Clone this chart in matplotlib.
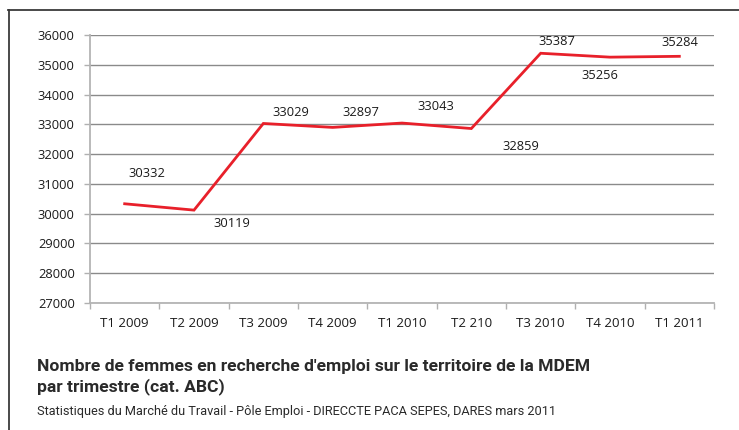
import matplotlib
matplotlib.use("Agg")
import matplotlib.pyplot as plt
from matplotlib.lines import Line2D

# Data
trimestres = ["T1 2009", "T2 2009", "T3 2009", "T4 2009", "T1 2010",
              "T2 210", "T3 2010", "T4 2010", "T1 2011"]
femmes = [30332, 30119, 33029, 32897, 33043, 32859, 35387, 35256, 35284]
# label offsets (pixels) from each point
label_dx = [22, 38, 28, 28, 34, 50, 16, -10, 1]
label_dy = [30, -13, 11, 15, 17, -18, 12, -18, 14]

plt.rcParams['font.family'] = ['Open Sans', 'DejaVu Sans']

fig = plt.figure(figsize=(7.39, 4.30), dpi=100)
ax = fig.add_axes([90 / 739, 1 - 303 / 430, 624 / 739, 268 / 430])

x = list(range(len(trimestres)))
ax.plot(x, femmes, color='#e8202a', lw=2.0, solid_joinstyle='miter')

for xi, v, dx, dy in zip(x, femmes, label_dx, label_dy):
    ax.annotate(str(v), (xi, v), xytext=(dx * 0.72, dy * 0.72),
                textcoords='offset points', ha='center', va='center',
                fontsize=9.3, color='#1a1a1a')

ax.set_xlim(-0.5, len(trimestres) - 0.5)
ax.set_ylim(27000, 36000)
ax.set_yticks(range(27000, 36001, 1000))
ax.yaxis.grid(True, color='#8a8a8a', lw=1.0)
ax.set_axisbelow(True)

ax.set_xticks([i - 0.5 for i in range(len(trimestres) + 1)])
ax.set_xticklabels([])
ax.set_xticks(x, minor=True)
ax.set_xticklabels(trimestres, minor=True)
ax.tick_params(axis='x', which='major', length=4, color='#b0b0b0', width=1)
ax.tick_params(axis='x', which='minor', length=0, pad=10, labelsize=9.5,
               labelcolor='#1a1a1a')
ax.tick_params(axis='y', length=4, color='#b0b0b0', width=1, pad=7,
               labelsize=9.3, labelcolor='#1a1a1a')

for s in ['top', 'right']:
    ax.spines[s].set_visible(False)
for s in ['left', 'bottom']:
    ax.spines[s].set_color('#b4b4b4')
    ax.spines[s].set_linewidth(1.3)

# outer frame (top and left edges visible)
fig.add_artist(Line2D([8 / 739, 1], [1 - 10 / 430, 1 - 10 / 430],
                      color='#3a3a3a', lw=1.3, transform=fig.transFigure))
fig.add_artist(Line2D([9 / 739, 9 / 739], [0, 1 - 10 / 430],
                      color='#3a3a3a', lw=1.3, transform=fig.transFigure))

tfam = ['DejaVu Sans Condensed', 'Roboto', 'DejaVu Sans']
fig.text(37 / 739, 1 - 366 / 430,
         "Nombre de femmes en recherche d'emploi sur le territoire de la MDEM",
         family=tfam, fontweight='bold', fontsize=12.6, color='#2a2a2a',
         ha='left', va='center')
fig.text(37 / 739, 1 - 387 / 430, "par trimestre (cat. ABC)",
         family=tfam, fontweight='bold', fontsize=12.6, color='#2a2a2a',
         ha='left', va='center')
fig.text(37 / 739, 1 - 411 / 430,
         "Statistiques du Marché du Travail - Pôle Emploi - DIRECCTE PACA SEPES, DARES mars 2011",
         family=tfam, fontsize=9.15, color='#2a2a2a', ha='left', va='center')

fig.savefig("out.png", dpi=100)
